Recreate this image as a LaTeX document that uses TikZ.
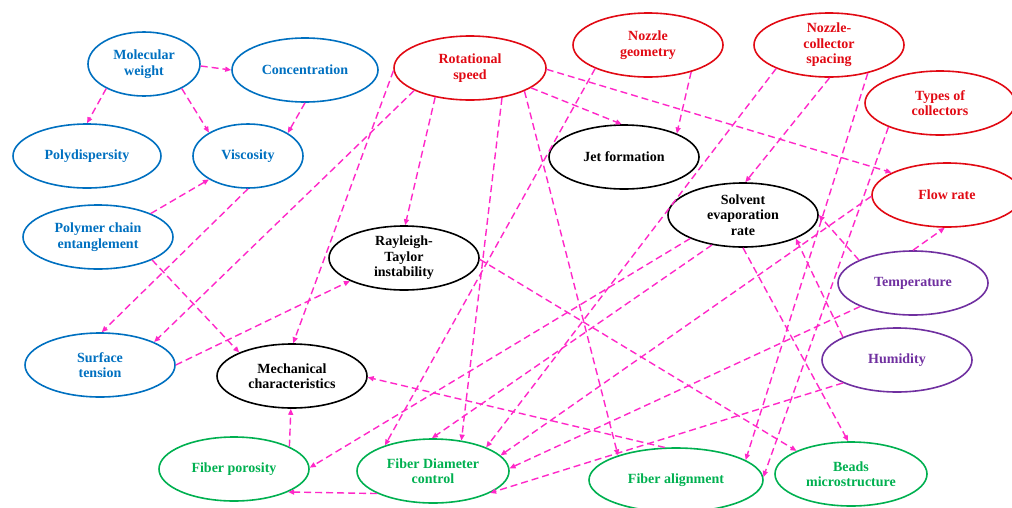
\documentclass[tikz,border=0pt]{standalone}
\usepackage{fontspec}
\setmainfont{Liberation Serif}
\usetikzlibrary{shapes.geometric,arrows.meta}
\definecolor{cblue}{RGB}{0,112,192}
\definecolor{cred}{RGB}{225,10,20}
\definecolor{cpurple}{RGB}{112,48,160}
\definecolor{cgreen}{RGB}{0,176,80}
\definecolor{cmag}{RGB}{255,40,200}
\begin{document}
\begin{tikzpicture}[x=1pt,y=-1pt,
  oval/.style={ellipse,draw,line width=1.6pt,inner sep=0pt,align=center,
    minimum width=150pt,minimum height=64pt,
    font=\bfseries\fontsize{14}{15.5}\selectfont},
  bnode/.style={oval,draw=cblue,text=cblue},
  rnode/.style={oval,draw=cred,text=cred},
  pnode/.style={oval,draw=cpurple,text=cpurple},
  gnode/.style={oval,draw=cgreen,text=cgreen},
  knode/.style={oval,draw=black,text=black},
  link/.style={draw=cmag,line width=1.4pt,dash pattern=on 7pt off 4pt,
    -{Triangle[length=6pt,width=5pt]}}]
\useasboundingbox (0,0) rectangle (1012,507);
% blue
\node[bnode,minimum width=112pt] (mw) at (144,64) {Molecular\\weight};
\node[bnode,minimum width=146pt] (conc) at (305,70) {Concentration};
\node[bnode,minimum width=148pt] (poly) at (87,156) {Polydispersity};
\node[bnode,minimum width=110pt] (visc) at (248,156) {Viscosity};
\node[bnode] (pce) at (98,237) {Polymer chain\\entanglement};
\node[bnode] (surf) at (100,365) {Surface\\tension};
% black
\node[knode] (mech) at (292,376) {Mechanical\\characteristics};
\node[knode] (rt) at (404,258) {Rayleigh-\\Taylor\\instability};
\node[knode] (jet) at (624,157) {Jet formation};
\node[knode] (solv) at (743,215) {Solvent\\evaporation\\rate};
% red
\node[rnode,minimum width=152pt] (rot) at (470,68) {Rotational\\speed};
\node[rnode] (noz) at (648,45) {Nozzle\\geometry};
\node[rnode] (ncs) at (829,45) {Nozzle-\\collector\\spacing};
\node[rnode] (types) at (940,103) {Types of\\collectors};
\node[rnode] (flow) at (947,195) {Flow rate};
% purple
\node[pnode] (temp) at (913,283) {Temperature};
\node[pnode] (hum) at (897,360) {Humidity};
% green
\node[gnode] (por) at (234,469) {Fiber porosity};
\node[gnode,minimum width=152pt] (diam) at (433,471) {Fiber Diameter\\control};
\node[gnode,minimum width=174pt] (align) at (676,480) {Fiber alignment};
\node[gnode,minimum width=152pt] (beads) at (851,474) {Beads\\microstructure};
% links
\draw[link] (mw.-2) -- (conc.180);
\draw[link] (mw.213) -- (poly.90);
\draw[link] (mw.-33) -- (visc.149);
\draw[link] (conc.270) -- (visc.30);
\draw[link] (pce.24) -- (visc.211);
\draw[link] (visc.270) -- (surf.87);
\draw[link] (rot.202) -- (surf.23);
\draw[link] (rot.182) -- (mech.88);
\draw[link] (pce.-23) -- (mech.156);
\draw[link] (surf.0) -- (rt.203);
\draw[link] (por.22) -- (mech.268);
\draw[link] (align.109) -- (mech.-1);
\draw[link] (diam.202) -- (por.-23);
\draw[link] (solv.204) -- (por.1);
\draw[link] (noz.204) -- (diam.152);
\draw[link] (rot.-43) -- (diam.47);
\draw[link] (solv.224) -- (diam.92);
\draw[link] (ncs.204) -- (diam.24);
\draw[link] (flow.181) -- (diam.13);
\draw[link] (temp.204) -- (diam.2);
\draw[link] (hum.203) -- (diam.-21);
\draw[link] (rot.220) -- (rt.88);
\draw[link] (rot.-23) -- (align.157);
\draw[link] (rot.-1) -- (flow.158);
\draw[link] (rot.-18) -- (jet.94);
\draw[link] (noz.-32) -- (jet.24);
\draw[link] (ncs.271) -- (solv.86);
\draw[link] (ncs.-36) -- (align.16);
\draw[link] (types.205) -- (align.2);
\draw[link] (rt.-1) -- (beads.157);
\draw[link] (solv.270) -- (beads.95);
\draw[link] (temp.157) -- (solv.0);
\draw[link] (hum.157) -- (solv.-24);
\draw[link] (temp.90) -- (flow.266);
\end{tikzpicture}
\end{document}
